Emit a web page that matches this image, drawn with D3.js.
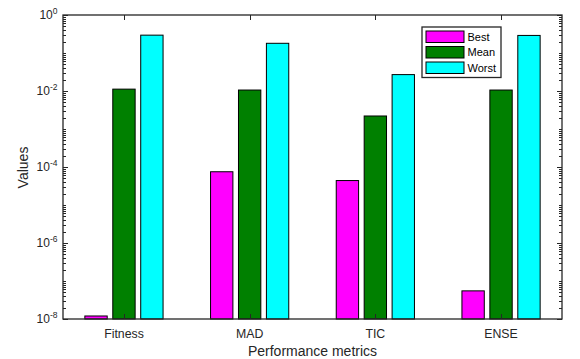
<!DOCTYPE html>
<html>
<head>
<meta charset="utf-8">
<script src="https://cdn.jsdelivr.net/npm/d3@7"></script>
<style>
  html, body { margin: 0; padding: 0; background: #fff; }
  svg { display: block; font-family: "Liberation Sans", Arial, Helvetica, sans-serif; }
</style>
</head>
<body>
<svg id="chart" width="580" height="359"></svg>
<script>
// Performance metrics of the optimiser (log scale)
const categories = ["Fitness", "MAD", "TIC", "ENSE"];
const seriesNames = ["Best", "Mean", "Worst"];
const bestValues = [1.2e-8, 7.5e-5, 4.4e-5, 5.5e-8];
const meanValues = [1.12e-2, 1.06e-2, 2.2e-3, 1.06e-2];
const worstValues = [0.295, 0.18, 0.027, 0.29];
const seriesColors = ["#ff00ff", "#008000", "#00ffff"];
const yTickExponents = [-8, -6, -4, -2, 0];

const series = [bestValues, meanValues, worstValues];

const svg = d3.select("#chart");
const axisColor = "#262626";
const plot = { left: 63, right: 562, top: 15, bottom: 319 };

const x = d3.scaleLinear().domain([0.515, 4.485]).range([plot.left, plot.right]);
const y = d3.scaleLog().domain([1e-8, 1]).range([plot.bottom, plot.top]);

// grouped bar geometry (in category units)
const groupWidth = 2 / 3;
const slot = groupWidth / seriesNames.length;
const barWidth = slot * 0.8;

const bars = svg.append("g");
series.forEach((vals, s) => {
  bars.selectAll(null)
    .data(vals)
    .enter()
    .append("rect")
    .attr("x", (d, i) => x(i + 1 + (s - 1) * slot - barWidth / 2))
    .attr("width", (d, i) => x(i + 1 + barWidth / 2) - x(i + 1 - barWidth / 2))
    .attr("y", d => y(d))
    .attr("height", d => y(1e-8) - y(d))
    .attr("fill", seriesColors[s])
    .attr("stroke", "#000")
    .attr("stroke-width", 1);
});

// axes box
const axes = svg.append("g").attr("stroke", axisColor).attr("fill", "none");
axes.append("rect")
  .attr("x", plot.left).attr("y", plot.top)
  .attr("width", plot.right - plot.left).attr("height", plot.bottom - plot.top)
  .attr("stroke-width", 1.3);

// y ticks: major at labelled decades, minor elsewhere
const majorVals = yTickExponents.map(e => Math.pow(10, e));
const minorVals = [];
for (let e = -8; e < 0; e++) {
  for (let k = 1; k <= 9; k++) {
    const v = k * Math.pow(10, e);
    if (k === 1 && yTickExponents.includes(e)) continue;
    minorVals.push(v);
  }
}
function yTicks(vals, len) {
  vals.forEach(v => {
    const yy = Math.round(y(v)) + 0.5;
    axes.append("line").attr("x1", plot.left).attr("x2", plot.left + len)
      .attr("y1", yy).attr("y2", yy).attr("stroke-width", 1);
    axes.append("line").attr("x1", plot.right).attr("x2", plot.right - len)
      .attr("y1", yy).attr("y2", yy).attr("stroke-width", 1);
  });
}
yTicks(majorVals, 5);
yTicks(minorVals, 3);

// x ticks
categories.forEach((c, i) => {
  const xx = Math.round(x(i + 1)) + 0.5;
  axes.append("line").attr("x1", xx).attr("x2", xx)
    .attr("y1", plot.bottom).attr("y2", plot.bottom - 5).attr("stroke-width", 1);
  axes.append("line").attr("x1", xx).attr("x2", xx)
    .attr("y1", plot.top).attr("y2", plot.top + 5).attr("stroke-width", 1);
});

// y tick labels as 10^n
const yLabels = svg.append("g").attr("fill", axisColor);
yTickExponents.forEach(e => {
  const t = yLabels.append("text")
    .attr("x", 57.5).attr("y", y(Math.pow(10, e)) + 4)
    .attr("text-anchor", "end")
    .style("font-size", "12px");
  t.append("tspan").text("10");
  t.append("tspan").attr("dy", -5).style("font-size", "8.5px").text(e);
});

// category labels
svg.append("g").attr("fill", axisColor)
  .selectAll("text").data(categories).enter().append("text")
  .attr("x", (d, i) => x(i + 1))
  .attr("y", 337.5)
  .attr("text-anchor", "middle")
  .style("font-size", "12.3px")
  .text(d => d);

// axis titles
svg.append("text")
  .attr("x", (plot.left + plot.right) / 2).attr("y", 356)
  .attr("text-anchor", "middle").attr("fill", axisColor)
  .style("font-size", "14px")
  .text("Performance metrics");
svg.append("text")
  .attr("transform", "translate(28,167.5) rotate(-90)")
  .attr("text-anchor", "middle").attr("fill", axisColor)
  .style("font-size", "14px")
  .text("Values");

// legend
const legend = svg.append("g");
legend.append("rect")
  .attr("x", 422).attr("y", 27).attr("width", 79).attr("height", 50.5)
  .attr("fill", "#fff").attr("stroke", axisColor).attr("stroke-width", 1.3);
seriesNames.forEach((name, s) => {
  const cy = 36.5 + s * 15.5;
  legend.append("rect")
    .attr("x", 426).attr("y", cy - 5.5).attr("width", 38).attr("height", 11.5)
    .attr("fill", seriesColors[s]).attr("stroke", "#000").attr("stroke-width", 1);
  legend.append("text")
    .attr("x", 467.5).attr("y", cy + 4)
    .attr("fill", "#000")
    .style("font-size", "11px")
    .text(name);
});
</script>
</body>
</html>
